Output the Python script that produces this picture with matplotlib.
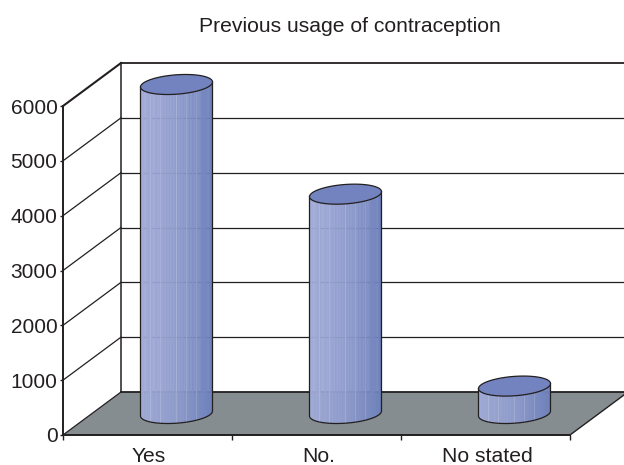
import matplotlib
matplotlib.use("Agg")
import matplotlib.pyplot as plt
import numpy as np

plt.rcParams["font.family"] = ["Liberation Sans", "DejaVu Sans"]

TITLE = "Previous usage of contraception"
CATEGORIES = ["Yes", "No.", "No stated"]
VALUES = [6000, 4000, 500]
Y_TICKS = [0, 1000, 2000, 3000, 4000, 5000, 6000]

W, H = 624, 465
LEFT, RIGHT, TOP, BOTTOM = 63, 570, 106, 435

# oblique depth of the box, in pixels
DEPTH_X_PX, DEPTH_Y_PX = 58, 43
LINE = "#231f20"
FLOOR = "#858d90"
TOP_FACE = "#7283c0"
SIDE_LEFT = np.array([0.635, 0.675, 0.845])
SIDE_MID = np.array([0.565, 0.615, 0.805])
SIDE_RIGHT = np.array([0.430, 0.505, 0.735])

fig = plt.figure(figsize=(W / 100, H / 100), dpi=100)
ax = fig.add_axes([LEFT / W, 1 - BOTTOM / H, (RIGHT - LEFT) / W, (BOTTOM - TOP) / H])
ax.set_xlim(0, len(CATEGORIES))
ax.set_ylim(0, Y_TICKS[-1])

px_x = len(CATEGORIES) / (RIGHT - LEFT)
px_y = Y_TICKS[-1] / (BOTTOM - TOP)
dx = DEPTH_X_PX * px_x
dy = DEPTH_Y_PX * px_y
n = len(CATEGORIES)

# floor
ax.fill([0, n, n + dx, dx], [0, 0, dy, dy], color=FLOOR, lw=0, clip_on=False, zorder=1)
ax.plot([n, n + dx], [0, dy], color=LINE, lw=1.0, clip_on=False, zorder=2)

# walls and grid
for v in Y_TICKS:
    lw = 1.5 if v == Y_TICKS[-1] else 0.9
    ax.plot([0, dx], [v, v + dy], color=LINE, lw=lw, clip_on=False, zorder=2)
    ax.plot([dx, n + dx], [v + dy, v + dy], color=LINE, lw=1.3 if v in (0, Y_TICKS[-1]) else 0.9,
            clip_on=False, zorder=2)
ax.plot([dx, dx], [dy, Y_TICKS[-1] + dy], color=LINE, lw=1.1, clip_on=False, zorder=2)


def ellipse(cx, cy, t):
    # tilted outline of the cylinder cap
    return cx + 36 * px_x * np.cos(t), cy + (2.5 * np.cos(t) + 9.7 * np.sin(t)) * px_y


STREAKS = [-0.73, -0.45, -0.02, 0.27, 0.55]
for i, value in enumerate(VALUES):
    cx = i + 0.5 + dx / 2
    base = dy / 2
    top = value + base

    t = np.linspace(np.pi, 2 * np.pi, 73)
    xs, ys = ellipse(cx, 0, t)

    # side shading as thin vertical strips
    for j in range(len(t) - 1):
        u = (xs[j] + xs[j + 1]) / 2 - cx
        u = u / (36 * px_x)
        if u < 0:
            col = SIDE_MID + (SIDE_LEFT - SIDE_MID) * (-u)
        else:
            col = SIDE_MID + (SIDE_RIGHT - SIDE_MID) * u
        ax.fill([xs[j], xs[j + 1], xs[j + 1], xs[j]],
                [base + ys[j], base + ys[j + 1], top + ys[j + 1], top + ys[j]],
                color=col, lw=0.3, clip_on=False, zorder=3)

    for s in STREAKS:
        tt = np.arccos(s) * -1
        sx, sy = ellipse(cx, 0, np.array([tt]))
        ax.plot([sx[0], sx[0]], [base + sy[0], top + sy[0]], color="white", alpha=0.15,
                lw=0.8, clip_on=False, zorder=4)

    # outline of the side
    ax.plot(np.r_[xs[0], xs, xs[-1]], np.r_[top + ys[0], base + ys, top + ys[-1]],
            color=LINE, lw=0.9, clip_on=False, zorder=5)

    # cap
    tc = np.linspace(0, 2 * np.pi, 145)
    ex, ey = ellipse(cx, top, tc)
    ax.fill(ex, ey, facecolor=TOP_FACE, edgecolor=LINE, lw=0.9, clip_on=False, zorder=6)

for side in ("top", "right"):
    ax.spines[side].set_visible(False)
for side in ("left", "bottom"):
    ax.spines[side].set_linewidth(1.4)
    ax.spines[side].set_color(LINE)
    ax.spines[side].set_zorder(7)

ax.set_yticks(Y_TICKS)
ax.set_yticklabels([str(v) for v in Y_TICKS], fontsize=15, color=LINE)
ax.tick_params(axis="y", length=2, width=1.0, color=LINE, pad=2)
ax.set_xticks(range(n + 1))
ax.set_xticklabels([])
ax.tick_params(axis="x", which="major", length=3.5, width=1.0, color=LINE)
ax.set_xticks(np.arange(n) + 0.51, minor=True)
ax.set_xticklabels(CATEGORIES, minor=True, fontsize=15.2, color=LINE)
ax.tick_params(axis="x", which="minor", length=0, pad=8.5)

fig.text(350 / W, 1 - 26 / H, TITLE, ha="center", va="center", fontsize=15.2, color=LINE)
fig.patch.set_facecolor("white")
fig.savefig("out.png", dpi=100)
